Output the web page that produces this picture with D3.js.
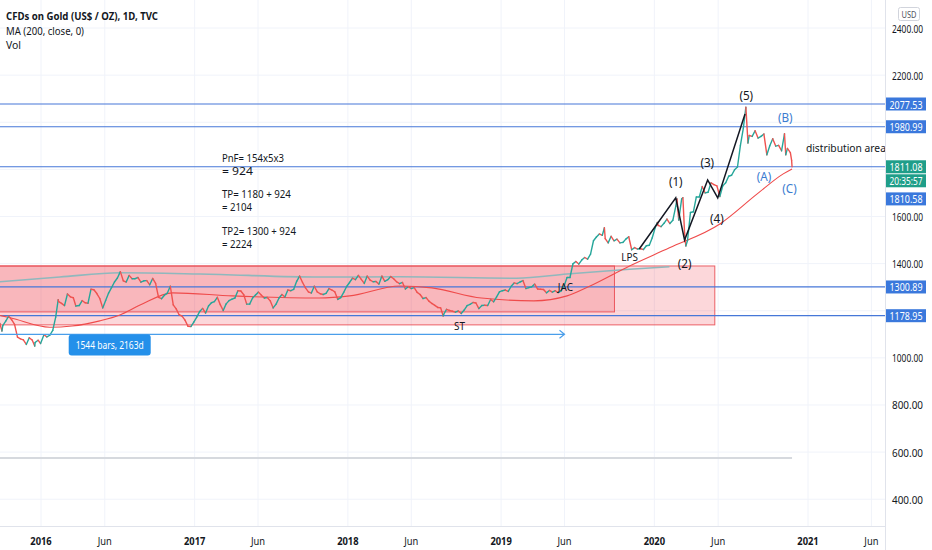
<!DOCTYPE html>
<html>
<head>
<meta charset="utf-8">
<script src="https://cdn.jsdelivr.net/npm/d3@7"></script>
<style>
  body { margin: 0; background: #fff; }
  svg { font-family: "Noto Sans", "Open Sans", sans-serif; }
</style>
</head>
<body>
<script>
// weekly closes (plus a few daily spikes)
var gold2015 = [
  ["2015-09-18",1138],["2015-09-25",1146],["2015-09-30",1114],["2015-10-02",1137],["2015-10-09",1156],
  ["2015-10-16",1177],["2015-10-23",1162],["2015-10-30",1142],["2015-11-06",1088],["2015-11-13",1081],
  ["2015-11-20",1076],["2015-11-27",1057],["2015-12-04",1085],["2015-12-11",1076],["2015-12-17",1050],
  ["2015-12-18",1065],["2015-12-25",1075],["2015-12-31",1061]
];
var gold2016 = [
  ["2016-01-08",1098],["2016-01-15",1089],["2016-01-22",1096],["2016-01-29",1117],["2016-02-05",1173],
  ["2016-02-11",1247],["2016-02-12",1239],["2016-02-19",1231],["2016-02-26",1222],["2016-03-04",1271],
  ["2016-03-11",1259],["2016-03-18",1255],["2016-03-24",1220],["2016-04-01",1222],["2016-04-08",1243],
  ["2016-04-15",1234],["2016-04-22",1232],["2016-04-29",1291],["2016-05-06",1289],["2016-05-13",1273],
  ["2016-05-20",1252],["2016-05-27",1212],["2016-06-03",1243],["2016-06-10",1275],["2016-06-17",1298],
  ["2016-06-24",1322],["2016-07-01",1339],["2016-07-08",1366],["2016-07-15",1327],["2016-07-22",1322],
  ["2016-07-29",1350],["2016-08-05",1336],["2016-08-12",1336],["2016-08-19",1341],["2016-08-26",1321],
  ["2016-09-02",1327],["2016-09-09",1328],["2016-09-16",1310],["2016-09-23",1337],["2016-09-30",1316],
  ["2016-10-07",1257],["2016-10-14",1251],["2016-10-21",1266],["2016-10-28",1275],["2016-11-04",1304],
  ["2016-11-11",1225],["2016-11-18",1208],["2016-11-25",1183],["2016-12-02",1177],["2016-12-09",1160],
  ["2016-12-16",1134],["2016-12-23",1133],["2016-12-30",1152]
];
var gold2017 = [
  ["2017-01-06",1173],["2017-01-13",1197],["2017-01-20",1210],["2017-01-27",1190],["2017-02-03",1220],
  ["2017-02-10",1234],["2017-02-17",1239],["2017-02-24",1257],["2017-03-03",1226],["2017-03-10",1201],
  ["2017-03-17",1229],["2017-03-24",1243],["2017-03-31",1249],["2017-04-07",1254],["2017-04-14",1285],
  ["2017-04-21",1284],["2017-04-28",1268],["2017-05-05",1228],["2017-05-12",1228],["2017-05-19",1254],
  ["2017-05-26",1267],["2017-06-02",1279],["2017-06-09",1266],["2017-06-16",1254],["2017-06-23",1256],
  ["2017-06-30",1242],["2017-07-07",1212],["2017-07-14",1228],["2017-07-21",1254],["2017-07-28",1269],
  ["2017-08-04",1258],["2017-08-11",1288],["2017-08-18",1285],["2017-08-25",1291],["2017-09-01",1325],
  ["2017-09-08",1347],["2017-09-15",1320],["2017-09-22",1297],["2017-09-29",1280],["2017-10-06",1275],
  ["2017-10-13",1304],["2017-10-20",1280],["2017-10-27",1272],["2017-11-03",1269],["2017-11-10",1274],
  ["2017-11-17",1294],["2017-11-24",1288],["2017-12-01",1280],["2017-12-08",1248],["2017-12-15",1256],
  ["2017-12-22",1278],["2017-12-29",1303]
];
var gold2018 = [
  ["2018-01-05",1320],["2018-01-12",1338],["2018-01-19",1332],["2018-01-26",1350],["2018-02-02",1333],
  ["2018-02-09",1316],["2018-02-16",1347],["2018-02-23",1330],["2018-03-02",1323],["2018-03-09",1324],
  ["2018-03-16",1313],["2018-03-23",1347],["2018-03-30",1325],["2018-04-06",1332],["2018-04-13",1345],
  ["2018-04-20",1336],["2018-04-27",1323],["2018-05-04",1315],["2018-05-11",1320],["2018-05-18",1292],
  ["2018-05-25",1302],["2018-06-01",1294],["2018-06-08",1298],["2018-06-15",1278],["2018-06-22",1269],
  ["2018-06-29",1252],["2018-07-06",1256],["2018-07-13",1241],["2018-07-20",1231],["2018-07-27",1223],
  ["2018-08-03",1214],["2018-08-10",1212],["2018-08-16",1178],["2018-08-17",1184],["2018-08-24",1206],
  ["2018-08-31",1201],["2018-09-07",1198],["2018-09-14",1194],["2018-09-21",1199],["2018-09-28",1188],
  ["2018-10-05",1203],["2018-10-12",1222],["2018-10-19",1227],["2018-10-26",1235],["2018-11-02",1233],
  ["2018-11-09",1209],["2018-11-16",1222],["2018-11-23",1223],["2018-11-30",1222],["2018-12-07",1248],
  ["2018-12-14",1238],["2018-12-21",1258],["2018-12-28",1280]
];
var gold2019 = [
  ["2019-01-04",1285],["2019-01-11",1288],["2019-01-18",1282],["2019-01-25",1304],["2019-02-01",1318],
  ["2019-02-08",1315],["2019-02-15",1322],["2019-02-22",1328],["2019-03-01",1294],["2019-03-08",1298],
  ["2019-03-15",1302],["2019-03-22",1313],["2019-03-29",1292],["2019-04-05",1291],["2019-04-12",1290],
  ["2019-04-19",1276],["2019-04-26",1286],["2019-05-03",1279],["2019-05-10",1285],["2019-05-17",1277],
  ["2019-05-24",1284],["2019-05-31",1305],["2019-06-07",1341],["2019-06-14",1341],["2019-06-21",1399],
  ["2019-06-28",1409],["2019-07-05",1398],["2019-07-12",1415],["2019-07-19",1426],["2019-07-26",1419],
  ["2019-08-02",1440],["2019-08-09",1497],["2019-08-16",1513],["2019-08-23",1526],["2019-08-30",1520],
  ["2019-09-04",1552],["2019-09-06",1506],["2019-09-13",1488],["2019-09-20",1516],["2019-09-27",1497],
  ["2019-10-04",1504],["2019-10-11",1488],["2019-10-18",1490],["2019-10-25",1504],["2019-11-01",1514],
  ["2019-11-08",1459],["2019-11-15",1468],["2019-11-22",1462],["2019-11-29",1463],["2019-12-06",1460],
  ["2019-12-13",1476],["2019-12-20",1478],["2019-12-27",1510]
];
var gold2020 = [
  ["2020-01-03",1552],["2020-01-08",1575],["2020-01-10",1562],["2020-01-17",1557],["2020-01-24",1571],
  ["2020-01-31",1589],["2020-02-07",1570],["2020-02-14",1584],["2020-02-21",1643],["2020-02-24",1675],
  ["2020-02-28",1585],["2020-03-06",1674],["2020-03-09",1680],["2020-03-13",1530],["2020-03-16",1475],
  ["2020-03-20",1498],["2020-03-27",1617],["2020-04-03",1620],["2020-04-10",1683],["2020-04-17",1683],
  ["2020-04-24",1727],["2020-05-01",1700],["2020-05-08",1703],["2020-05-15",1743],["2020-05-22",1735],
  ["2020-05-29",1730],["2020-06-05",1685],["2020-06-12",1730],["2020-06-19",1743],["2020-06-26",1771],
  ["2020-07-03",1775],["2020-07-10",1798],["2020-07-17",1810],["2020-07-24",1902],["2020-07-31",1975],
  ["2020-08-06",2064],["2020-08-07",2035],["2020-08-11",1912],["2020-08-14",1944],["2020-08-21",1940],
  ["2020-08-28",1964],["2020-09-04",1933],["2020-09-11",1940],["2020-09-18",1950],["2020-09-25",1862],
  ["2020-10-02",1900],["2020-10-09",1930],["2020-10-16",1899],["2020-10-23",1902],["2020-10-30",1879],
  ["2020-11-06",1951],["2020-11-09",1862],["2020-11-13",1889],["2020-11-20",1871],["2020-11-23",1838],
  ["2020-11-24",1811]
];

// MA(200)
var ma200 = [
  ["2015-09-25",1180],["2015-10-20",1170],["2016-01-22",1130],["2016-03-15",1135],["2016-05-20",1157],
  ["2016-07-07",1182],["2016-08-24",1224],["2016-11-10",1276],["2017-04-01",1263],["2017-10-25",1254],
  ["2018-01-05",1263],["2018-05-05",1305],["2018-07-20",1297],["2018-11-15",1254],["2019-03-20",1242],
  ["2019-06-07",1263],["2019-08-01",1305],["2019-11-03",1390],["2020-02-06",1467],["2020-06-05",1568],
  ["2020-09-02",1696],["2020-11-03",1781],["2020-11-24",1802]
];
// pale teal curve inside the range box
var tealLine = [
  ["2015-09-25",1323],["2016-02-15",1343],["2016-07-07",1361],["2017-01-14",1356],["2017-10-27",1343],
  ["2018-05-05",1344],["2019-02-07",1338],["2019-06-07",1356],["2019-11-03",1376],["2020-02-06",1387]
];

var levels = [2077.53, 1980.99, 1811.08, 1300.89, 1178.95];
var rangeBoxes = [
  { from: "2015-06-01", to: "2019-09-28", top: 1390, bottom: 1195 },
  { from: "2015-06-01", to: "2020-05-24", top: 1390, bottom: 1140 }
];
var waves = [
  ["2019-11-26",1462],["2020-02-21",1679],["2020-03-13",1500],
  ["2020-05-07",1755],["2020-05-31",1679],["2020-08-04",2035]
];
var measure = { from: "2015-06-01", to: "2019-06-01", price: 1100, label: "1544 bars, 2163d", at: ["2016-03-07", 1055] };
var greyLine = { to: "2020-11-24", price: 575 };

var labels = [
  { t: "(5)", d: "2020-08-07", p: 2116, c: "#131722", s: 13 },
  { t: "(B)", d: "2020-11-08", p: 2022, c: "#3b7cd0", s: 13 },
  { t: "(3)", d: "2020-05-06", p: 1831, c: "#131722", s: 13 },
  { t: "(1)", d: "2020-02-21", p: 1751, c: "#131722", s: 13 },
  { t: "(A)", d: "2020-09-18", p: 1772, c: "#3b7cd0", s: 13 },
  { t: "(C)", d: "2020-11-18", p: 1721, c: "#3b7cd0", s: 13 },
  { t: "(4)", d: "2020-05-29", p: 1594, c: "#131722", s: 13 },
  { t: "(2)", d: "2020-03-13", p: 1403, c: "#131722", s: 13 },
  { t: "LPS", d: "2019-11-03", p: 1432, c: "#131722", s: 11 },
  { t: "JAC", d: "2019-06-03", p: 1301, c: "#131722", s: 11 },
  { t: "ST", d: "2018-09-24", p: 1139, c: "#131722", s: 11 }
];
var notes = [
  ["PnF= 154x5x3", 1848, 62], ["= 924", 1793, 31],
  ["TP= 1180 + 924", 1695, 69], ["= 2104", 1640, 30],
  ["TP2= 1300 + 924", 1538, 74], ["= 2224", 1483, 30]
];
var notesDate = "2017-03-07";

var priceTicks = [400, 600, 800, 1000, 1400, 1600, 2200, 2400];
var gridPrices = [400, 600, 800, 1000, 1200, 1400, 1600, 1800, 2000, 2200, 2400];
var timeTicks = ["2016-01-01","2016-06-01","2017-01-01","2017-06-01","2018-01-01","2018-06-01",
                 "2019-01-01","2019-06-01","2020-01-01","2020-06-01","2021-01-01","2021-06-01"];
var axisTags = [
  { t: "2077.53", p: 2077.53, c: "#3a78dc" },
  { t: "1980.99", p: 1980.99, c: "#3a78dc" },
  { t: "1811.08", p: 1811.08, c: "#1f9e89" },
  { t: "20:35:57", p: 1811.08, c: "#1f9e89", shift: 14 },
  { t: "1810.58", p: 1810.58, c: "#3a78dc", shift: 32 },
  { t: "1300.89", p: 1300.89, c: "#3a78dc" },
  { t: "1178.95", p: 1178.95, c: "#3a78dc" }
];

var W = 932, H = 550, axisX = 885, axisY = 526;
var parse = d3.timeParse("%Y-%m-%d");

var x = d3.scaleTime().domain([parse("2016-01-01"), parse("2021-01-01")]).range([41, 808]);
var y = d3.scaleLinear().domain([1178.95, 2077.53]).range([315.7, 104]);

var svg = d3.select("body").append("svg").attr("width", W).attr("height", H);

svg.append("defs").append("clipPath").attr("id", "plot")
  .append("rect").attr("width", axisX).attr("height", axisY);

// squeeze text horizontally like the screenshot does
function txt(g, str, px, py, o) {
  o = o || {};
  var t = g.append("text")
    .attr("x", px).attr("y", py)
    .attr("font-size", o.size || 11)
    .attr("font-weight", o.weight || "normal")
    .attr("fill", o.color || "#131722")
    .attr("text-anchor", o.anchor || "start")
    .attr("dominant-baseline", "central")
    .text(str);
  var w = o.width || t.node().getComputedTextLength() * (o.sx || 0.82);
  t.attr("textLength", w).attr("lengthAdjust", "spacingAndGlyphs");
  return t;
}

// grid
var grid = svg.append("g");
grid.selectAll(".vg").data(timeTicks).join("line")
  .attr("x1", d => x(parse(d))).attr("x2", d => x(parse(d)))
  .attr("y1", 0).attr("y2", axisY).attr("stroke", "#f0f3fa");
grid.selectAll(".hg").data(gridPrices).join("line")
  .attr("x1", 0).attr("x2", axisX).attr("y1", d => y(d)).attr("y2", d => y(d))
  .attr("stroke", "#f0f3fa");

var plot = svg.append("g").attr("clip-path", "url(#plot)");

// range boxes
plot.selectAll(".box").data(rangeBoxes).join("rect")
  .attr("x", d => x(parse(d.from))).attr("y", d => y(d.top))
  .attr("width", d => x(parse(d.to)) - x(parse(d.from)))
  .attr("height", d => y(d.bottom) - y(d.top))
  .attr("fill", "rgba(242,54,69,0.2)")
  .attr("stroke", "#e8484f").attr("stroke-opacity", 0.85).attr("stroke-width", 1);

// grey horizontal ray
plot.append("line")
  .attr("x1", 0).attr("x2", x(parse(greyLine.to)))
  .attr("y1", y(greyLine.price)).attr("y2", y(greyLine.price))
  .attr("stroke", "#d6d9de").attr("stroke-width", 2);

// horizontal levels
plot.selectAll(".lvl").data(levels).join("line")
  .attr("x1", 0).attr("x2", axisX).attr("y1", d => y(d)).attr("y2", d => y(d))
  .attr("stroke", "#4677d8").attr("stroke-width", 1.2);

// teal curve and MA
var line = d3.line().x(d => x(parse(d[0]))).y(d => y(d[1])).curve(d3.curveMonotoneX);
plot.append("path").attr("d", line(tealLine)).attr("fill", "none")
  .attr("stroke", "#8fb8bd").attr("stroke-width", 1.6);
plot.append("path").attr("d", line(ma200)).attr("fill", "none")
  .attr("stroke", "#ef4b4b").attr("stroke-width", 1.1);

// price
var price = [].concat(gold2015, gold2016, gold2017, gold2018, gold2019, gold2020)
  .map(d => ({ date: parse(d[0]), value: d[1] }));
plot.selectAll(".seg").data(d3.pairs(price)).join("line")
  .attr("x1", d => x(d[0].date)).attr("y1", d => y(d[0].value))
  .attr("x2", d => x(d[1].date)).attr("y2", d => y(d[1].value))
  .attr("stroke", d => d[1].value >= d[0].value ? "#26a69a" : "#ef5350")
  .attr("stroke-width", 1.4).attr("stroke-linecap", "round");

// elliott wave
plot.append("path").attr("d", d3.line().x(d => x(parse(d[0]))).y(d => y(d[1]))(waves))
  .attr("fill", "none").attr("stroke", "#131722").attr("stroke-width", 1.5);

// measure arrow
var ax0 = x(parse(measure.from)), ax1 = x(parse(measure.to)), ay = y(measure.price);
plot.append("path")
  .attr("d", "M" + ax0 + "," + ay + "H" + ax1 + "M" + (ax1 - 5) + "," + (ay - 4) + "L" + ax1 + "," + ay + "L" + (ax1 - 5) + "," + (ay + 4))
  .attr("fill", "none").attr("stroke", "#4a9eea").attr("stroke-width", 1.2);
var mx = x(parse(measure.at[0])), my = y(measure.at[1]);
plot.append("rect").attr("x", mx).attr("y", my - 10.5).attr("width", 82).attr("height", 21)
  .attr("rx", 3).attr("fill", "#2490ea");
txt(plot, measure.label, mx + 41, my, { anchor: "middle", color: "#fff", size: 11, width: 68 });

// annotations
labels.forEach(function(d) {
  txt(plot, d.t, x(parse(d.d)), y(d.p), { anchor: "middle", color: d.c, size: d.s, sx: 0.9 });
});
notes.forEach(function(d) {
  txt(plot, d[0], x(parse(notesDate)), y(d[1]), { size: 10, width: d[2] });
});
txt(plot, "distribution area", x(parse("2020-12-27")), y(1895), { size: 11, width: 80 });

// axes borders
svg.append("line").attr("x1", axisX + 0.5).attr("x2", axisX + 0.5).attr("y1", 0).attr("y2", H)
  .attr("stroke", "#e0e3eb");
svg.append("line").attr("x1", 0).attr("x2", axisX).attr("y1", axisY + 0.5).attr("y2", axisY + 0.5)
  .attr("stroke", "#e0e3eb");

// price axis
var yAxis = svg.append("g").attr("transform", "translate(" + axisX + ",0)")
  .call(d3.axisRight(y).tickValues(priceTicks).tickSize(0).tickFormat(d => ""));
yAxis.select(".domain").remove();
priceTicks.forEach(function(p) {
  txt(svg, p.toFixed(2), 892, y(p), { size: 11, width: 31 });
});

// tags on the price axis
axisTags.forEach(function(d) {
  var cy = y(d.p) + (d.shift || 0);
  svg.append("rect").attr("x", axisX + 1).attr("y", cy - 6.5).attr("width", 40).attr("height", 13)
    .attr("fill", d.c);
  txt(svg, d.t, axisX + 21, cy, { anchor: "middle", color: "#fff", size: 11, width: 33 });
});

// USD box
svg.append("rect").attr("x", 898.5).attr("y", 7.5).attr("width", 21).attr("height", 13)
  .attr("rx", 2).attr("fill", "#fff").attr("stroke", "#d1d4dc");
txt(svg, "USD", 909, 14.5, { anchor: "middle", size: 9, color: "#50535e", width: 15 });

// time axis
var xAxis = svg.append("g").attr("transform", "translate(0," + axisY + ")")
  .call(d3.axisBottom(x).tickValues(timeTicks.map(parse)).tickSize(0).tickFormat(d => ""));
xAxis.select(".domain").remove();
timeTicks.forEach(function(t) {
  var d = parse(t), isYear = d.getMonth() === 0;
  txt(svg, isYear ? d3.timeFormat("%Y")(d) : "Jun", x(d), 540,
    { anchor: "middle", size: 11, weight: isYear ? "bold" : "normal", color: "#131722", sx: 0.85 });
});

// legend
txt(svg, "CFDs on Gold (US$ / OZ), 1D, TVC", 6, 15, { size: 11, weight: "bold", width: 152 });
txt(svg, "MA (200, close, 0)", 6, 30, { size: 11, width: 78 });
txt(svg, "Vol", 6, 44, { size: 11, width: 15 });
</script>
</body>
</html>
